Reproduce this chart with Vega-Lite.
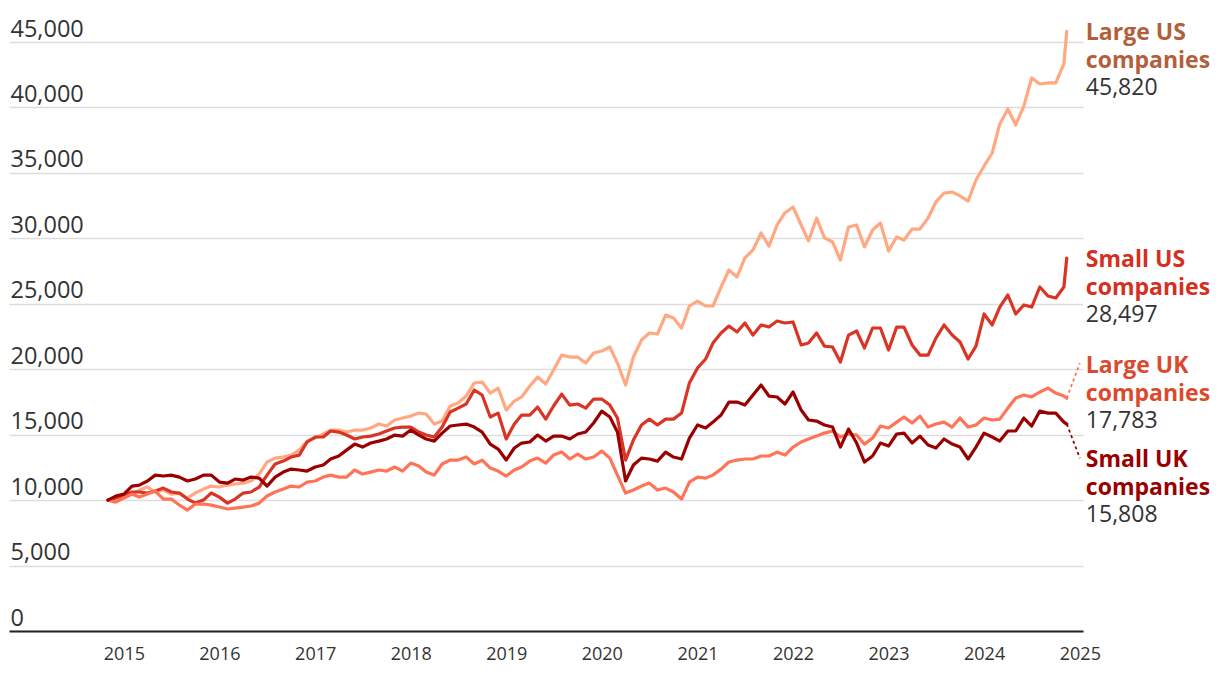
{
  "$schema": "https://vega.github.io/schema/vega-lite/v6.json",
  "width": 1074,
  "height": 589,
  "autosize": {"type": "none"},
  "padding": {"left": 9, "top": 42, "right": 137, "bottom": 51},
  "background": "white",
  "config": {"view": {"stroke": null}, "font": "Open Sans"},
  "datasets": {
    "pts": [
      {"d":"2014-11-01","s":"LUS","v":10000},{"d":"2014-12-01","s":"LUS","v":10160},
      {"d":"2015-01-01","s":"LUS","v":10310},{"d":"2015-02-01","s":"LUS","v":10460},{"d":"2015-03-01","s":"LUS","v":10770},{"d":"2015-04-01","s":"LUS","v":11000},{"d":"2015-05-01","s":"LUS","v":10620},{"d":"2015-06-01","s":"LUS","v":10770},{"d":"2015-07-01","s":"LUS","v":10460},{"d":"2015-08-01","s":"LUS","v":10540},{"d":"2015-09-01","s":"LUS","v":10160},{"d":"2015-10-01","s":"LUS","v":10540},{"d":"2015-11-01","s":"LUS","v":10840},{"d":"2015-12-01","s":"LUS","v":11070},
      {"d":"2016-01-01","s":"LUS","v":11000},{"d":"2016-02-01","s":"LUS","v":11150},{"d":"2016-03-01","s":"LUS","v":11230},{"d":"2016-04-01","s":"LUS","v":11300},{"d":"2016-05-01","s":"LUS","v":11460},{"d":"2016-06-01","s":"LUS","v":11990},{"d":"2016-07-01","s":"LUS","v":12910},{"d":"2016-08-01","s":"LUS","v":13210},{"d":"2016-09-01","s":"LUS","v":13290},{"d":"2016-10-01","s":"LUS","v":13440},{"d":"2016-11-01","s":"LUS","v":13820},{"d":"2016-12-01","s":"LUS","v":14510},
      {"d":"2017-01-01","s":"LUS","v":14740},{"d":"2017-02-01","s":"LUS","v":15050},{"d":"2017-03-01","s":"LUS","v":15350},{"d":"2017-04-01","s":"LUS","v":15350},{"d":"2017-05-01","s":"LUS","v":15200},{"d":"2017-06-01","s":"LUS","v":15350},{"d":"2017-07-01","s":"LUS","v":15350},{"d":"2017-08-01","s":"LUS","v":15510},{"d":"2017-09-01","s":"LUS","v":15810},{"d":"2017-10-01","s":"LUS","v":15660},{"d":"2017-11-01","s":"LUS","v":16120},{"d":"2017-12-01","s":"LUS","v":16270},
      {"d":"2018-01-01","s":"LUS","v":16420},{"d":"2018-02-01","s":"LUS","v":16650},{"d":"2018-03-01","s":"LUS","v":16580},{"d":"2018-04-01","s":"LUS","v":15810},{"d":"2018-05-01","s":"LUS","v":16040},{"d":"2018-06-01","s":"LUS","v":17190},{"d":"2018-07-01","s":"LUS","v":17420},{"d":"2018-08-01","s":"LUS","v":17950},{"d":"2018-09-01","s":"LUS","v":18950},{"d":"2018-10-01","s":"LUS","v":19020},{"d":"2018-11-01","s":"LUS","v":18180},{"d":"2018-12-01","s":"LUS","v":18560},
      {"d":"2019-01-01","s":"LUS","v":16880},{"d":"2019-02-01","s":"LUS","v":17570},{"d":"2019-03-01","s":"LUS","v":17880},{"d":"2019-04-01","s":"LUS","v":18720},{"d":"2019-05-01","s":"LUS","v":19400},{"d":"2019-06-01","s":"LUS","v":18870},{"d":"2019-07-01","s":"LUS","v":19940},{"d":"2019-08-01","s":"LUS","v":21080},{"d":"2019-09-01","s":"LUS","v":20930},{"d":"2019-10-01","s":"LUS","v":20930},{"d":"2019-11-01","s":"LUS","v":20470},{"d":"2019-12-01","s":"LUS","v":21240},
      {"d":"2020-01-01","s":"LUS","v":21390},{"d":"2020-02-01","s":"LUS","v":21700},{"d":"2020-03-01","s":"LUS","v":20470},{"d":"2020-04-01","s":"LUS","v":18790},{"d":"2020-05-01","s":"LUS","v":20930},{"d":"2020-06-01","s":"LUS","v":22230},{"d":"2020-07-01","s":"LUS","v":22770},{"d":"2020-08-01","s":"LUS","v":22690},{"d":"2020-09-01","s":"LUS","v":24140},{"d":"2020-10-01","s":"LUS","v":23910},{"d":"2020-11-01","s":"LUS","v":23150},{"d":"2020-12-01","s":"LUS","v":24830},
      {"d":"2021-01-01","s":"LUS","v":25210},{"d":"2021-02-01","s":"LUS","v":24830},{"d":"2021-03-01","s":"LUS","v":24830},{"d":"2021-04-01","s":"LUS","v":26280},{"d":"2021-05-01","s":"LUS","v":27580},{"d":"2021-06-01","s":"LUS","v":27050},{"d":"2021-07-01","s":"LUS","v":28500},{"d":"2021-08-01","s":"LUS","v":29110},{"d":"2021-09-01","s":"LUS","v":30410},{"d":"2021-10-01","s":"LUS","v":29410},{"d":"2021-11-01","s":"LUS","v":31020},{"d":"2021-12-01","s":"LUS","v":31940},
      {"d":"2022-01-01","s":"LUS","v":32400},{"d":"2022-02-01","s":"LUS","v":31020},{"d":"2022-03-01","s":"LUS","v":29800},{"d":"2022-04-01","s":"LUS","v":31550},{"d":"2022-05-01","s":"LUS","v":30030},{"d":"2022-06-01","s":"LUS","v":29720},{"d":"2022-07-01","s":"LUS","v":28340},{"d":"2022-08-01","s":"LUS","v":30870},{"d":"2022-09-01","s":"LUS","v":31020},{"d":"2022-10-01","s":"LUS","v":29340},{"d":"2022-11-01","s":"LUS","v":30640},{"d":"2022-12-01","s":"LUS","v":31170},
      {"d":"2023-01-01","s":"LUS","v":29030},{"d":"2023-02-01","s":"LUS","v":30100},{"d":"2023-03-01","s":"LUS","v":29870},{"d":"2023-04-01","s":"LUS","v":30710},{"d":"2023-05-01","s":"LUS","v":30710},{"d":"2023-06-01","s":"LUS","v":31550},{"d":"2023-07-01","s":"LUS","v":32780},{"d":"2023-08-01","s":"LUS","v":33460},{"d":"2023-09-01","s":"LUS","v":33540},{"d":"2023-10-01","s":"LUS","v":33240},{"d":"2023-11-01","s":"LUS","v":32850},{"d":"2023-12-01","s":"LUS","v":34460},
      {"d":"2024-01-01","s":"LUS","v":35530},{"d":"2024-02-01","s":"LUS","v":36520},{"d":"2024-03-01","s":"LUS","v":38740},{"d":"2024-04-01","s":"LUS","v":39880},{"d":"2024-05-01","s":"LUS","v":38660},{"d":"2024-06-01","s":"LUS","v":40110},{"d":"2024-07-01","s":"LUS","v":42250},{"d":"2024-08-01","s":"LUS","v":41790},{"d":"2024-09-01","s":"LUS","v":41870},{"d":"2024-10-01","s":"LUS","v":41870},{"d":"2024-11-01","s":"LUS","v":43320},{"d":"2024-11-12","s":"LUS","v":45820},

      {"d":"2014-11-01","s":"SUS","v":10000},{"d":"2014-12-01","s":"SUS","v":10160},
      {"d":"2015-01-01","s":"SUS","v":10390},{"d":"2015-02-01","s":"SUS","v":10620},{"d":"2015-03-01","s":"SUS","v":10620},{"d":"2015-04-01","s":"SUS","v":10540},{"d":"2015-05-01","s":"SUS","v":10690},{"d":"2015-06-01","s":"SUS","v":10920},{"d":"2015-07-01","s":"SUS","v":10620},{"d":"2015-08-01","s":"SUS","v":10540},{"d":"2015-09-01","s":"SUS","v":10080},{"d":"2015-10-01","s":"SUS","v":9770},{"d":"2015-11-01","s":"SUS","v":10000},{"d":"2015-12-01","s":"SUS","v":10540},
      {"d":"2016-01-01","s":"SUS","v":10230},{"d":"2016-02-01","s":"SUS","v":9770},{"d":"2016-03-01","s":"SUS","v":10080},{"d":"2016-04-01","s":"SUS","v":10540},{"d":"2016-05-01","s":"SUS","v":10620},{"d":"2016-06-01","s":"SUS","v":11000},{"d":"2016-07-01","s":"SUS","v":11910},{"d":"2016-08-01","s":"SUS","v":12760},{"d":"2016-09-01","s":"SUS","v":12980},{"d":"2016-10-01","s":"SUS","v":13290},{"d":"2016-11-01","s":"SUS","v":13440},{"d":"2016-12-01","s":"SUS","v":14440},
      {"d":"2017-01-01","s":"SUS","v":14820},{"d":"2017-02-01","s":"SUS","v":14820},{"d":"2017-03-01","s":"SUS","v":15280},{"d":"2017-04-01","s":"SUS","v":15200},{"d":"2017-05-01","s":"SUS","v":14970},{"d":"2017-06-01","s":"SUS","v":14670},{"d":"2017-07-01","s":"SUS","v":14820},{"d":"2017-08-01","s":"SUS","v":14890},{"d":"2017-09-01","s":"SUS","v":15050},{"d":"2017-10-01","s":"SUS","v":15280},{"d":"2017-11-01","s":"SUS","v":15510},{"d":"2017-12-01","s":"SUS","v":15580},
      {"d":"2018-01-01","s":"SUS","v":15580},{"d":"2018-02-01","s":"SUS","v":15200},{"d":"2018-03-01","s":"SUS","v":14970},{"d":"2018-04-01","s":"SUS","v":14820},{"d":"2018-05-01","s":"SUS","v":15580},{"d":"2018-06-01","s":"SUS","v":16730},{"d":"2018-07-01","s":"SUS","v":17030},{"d":"2018-08-01","s":"SUS","v":17340},{"d":"2018-09-01","s":"SUS","v":18410},{"d":"2018-10-01","s":"SUS","v":18030},{"d":"2018-11-01","s":"SUS","v":16350},{"d":"2018-12-01","s":"SUS","v":16650},
      {"d":"2019-01-01","s":"SUS","v":14670},{"d":"2019-02-01","s":"SUS","v":15810},{"d":"2019-03-01","s":"SUS","v":16500},{"d":"2019-04-01","s":"SUS","v":16500},{"d":"2019-05-01","s":"SUS","v":17110},{"d":"2019-06-01","s":"SUS","v":16190},{"d":"2019-07-01","s":"SUS","v":17190},{"d":"2019-08-01","s":"SUS","v":18100},{"d":"2019-09-01","s":"SUS","v":17260},{"d":"2019-10-01","s":"SUS","v":17340},{"d":"2019-11-01","s":"SUS","v":17030},{"d":"2019-12-01","s":"SUS","v":17720},
      {"d":"2020-01-01","s":"SUS","v":17720},{"d":"2020-02-01","s":"SUS","v":17260},{"d":"2020-03-01","s":"SUS","v":16270},{"d":"2020-04-01","s":"SUS","v":13060},{"d":"2020-05-01","s":"SUS","v":14590},{"d":"2020-06-01","s":"SUS","v":15740},{"d":"2020-07-01","s":"SUS","v":16190},{"d":"2020-08-01","s":"SUS","v":15740},{"d":"2020-09-01","s":"SUS","v":16190},{"d":"2020-10-01","s":"SUS","v":16190},{"d":"2020-11-01","s":"SUS","v":16650},{"d":"2020-12-01","s":"SUS","v":18950},
      {"d":"2021-01-01","s":"SUS","v":20090},{"d":"2021-02-01","s":"SUS","v":20780},{"d":"2021-03-01","s":"SUS","v":22000},{"d":"2021-04-01","s":"SUS","v":22770},{"d":"2021-05-01","s":"SUS","v":23300},{"d":"2021-06-01","s":"SUS","v":22840},{"d":"2021-07-01","s":"SUS","v":23530},{"d":"2021-08-01","s":"SUS","v":22610},{"d":"2021-09-01","s":"SUS","v":23380},{"d":"2021-10-01","s":"SUS","v":23220},{"d":"2021-11-01","s":"SUS","v":23680},{"d":"2021-12-01","s":"SUS","v":23530},
      {"d":"2022-01-01","s":"SUS","v":23610},{"d":"2022-02-01","s":"SUS","v":21850},{"d":"2022-03-01","s":"SUS","v":22000},{"d":"2022-04-01","s":"SUS","v":22770},{"d":"2022-05-01","s":"SUS","v":21770},{"d":"2022-06-01","s":"SUS","v":21700},{"d":"2022-07-01","s":"SUS","v":20550},{"d":"2022-08-01","s":"SUS","v":22610},{"d":"2022-09-01","s":"SUS","v":22920},{"d":"2022-10-01","s":"SUS","v":21620},{"d":"2022-11-01","s":"SUS","v":23150},{"d":"2022-12-01","s":"SUS","v":23150},
      {"d":"2023-01-01","s":"SUS","v":21470},{"d":"2023-02-01","s":"SUS","v":23220},{"d":"2023-03-01","s":"SUS","v":23220},{"d":"2023-04-01","s":"SUS","v":21850},{"d":"2023-05-01","s":"SUS","v":21080},{"d":"2023-06-01","s":"SUS","v":21080},{"d":"2023-07-01","s":"SUS","v":22380},{"d":"2023-08-01","s":"SUS","v":23380},{"d":"2023-09-01","s":"SUS","v":22610},{"d":"2023-10-01","s":"SUS","v":22080},{"d":"2023-11-01","s":"SUS","v":20780},{"d":"2023-12-01","s":"SUS","v":21770},
      {"d":"2024-01-01","s":"SUS","v":24220},{"d":"2024-02-01","s":"SUS","v":23380},{"d":"2024-03-01","s":"SUS","v":24750},{"d":"2024-04-01","s":"SUS","v":25670},{"d":"2024-05-01","s":"SUS","v":24220},{"d":"2024-06-01","s":"SUS","v":24910},{"d":"2024-07-01","s":"SUS","v":24750},{"d":"2024-08-01","s":"SUS","v":26280},{"d":"2024-09-01","s":"SUS","v":25590},{"d":"2024-10-01","s":"SUS","v":25440},{"d":"2024-11-01","s":"SUS","v":26280},{"d":"2024-11-12","s":"SUS","v":28497},

      {"d":"2014-11-01","s":"LUK","v":10000},{"d":"2014-12-01","s":"LUK","v":9850},
      {"d":"2015-01-01","s":"LUK","v":10160},{"d":"2015-02-01","s":"LUK","v":10460},{"d":"2015-03-01","s":"LUK","v":10230},{"d":"2015-04-01","s":"LUK","v":10460},{"d":"2015-05-01","s":"LUK","v":10690},{"d":"2015-06-01","s":"LUK","v":10080},{"d":"2015-07-01","s":"LUK","v":10080},{"d":"2015-08-01","s":"LUK","v":9620},{"d":"2015-09-01","s":"LUK","v":9240},{"d":"2015-10-01","s":"LUK","v":9700},{"d":"2015-11-01","s":"LUK","v":9700},{"d":"2015-12-01","s":"LUK","v":9620},
      {"d":"2016-01-01","s":"LUK","v":9470},{"d":"2016-02-01","s":"LUK","v":9320},{"d":"2016-03-01","s":"LUK","v":9390},{"d":"2016-04-01","s":"LUK","v":9470},{"d":"2016-05-01","s":"LUK","v":9550},{"d":"2016-06-01","s":"LUK","v":9770},{"d":"2016-07-01","s":"LUK","v":10310},{"d":"2016-08-01","s":"LUK","v":10620},{"d":"2016-09-01","s":"LUK","v":10840},{"d":"2016-10-01","s":"LUK","v":11070},{"d":"2016-11-01","s":"LUK","v":11000},{"d":"2016-12-01","s":"LUK","v":11380},
      {"d":"2017-01-01","s":"LUK","v":11460},{"d":"2017-02-01","s":"LUK","v":11760},{"d":"2017-03-01","s":"LUK","v":11910},{"d":"2017-04-01","s":"LUK","v":11760},{"d":"2017-05-01","s":"LUK","v":11760},{"d":"2017-06-01","s":"LUK","v":12300},{"d":"2017-07-01","s":"LUK","v":11990},{"d":"2017-08-01","s":"LUK","v":12140},{"d":"2017-09-01","s":"LUK","v":12300},{"d":"2017-10-01","s":"LUK","v":12220},{"d":"2017-11-01","s":"LUK","v":12530},{"d":"2017-12-01","s":"LUK","v":12220},
      {"d":"2018-01-01","s":"LUK","v":12830},{"d":"2018-02-01","s":"LUK","v":12600},{"d":"2018-03-01","s":"LUK","v":12140},{"d":"2018-04-01","s":"LUK","v":11910},{"d":"2018-05-01","s":"LUK","v":12760},{"d":"2018-06-01","s":"LUK","v":13060},{"d":"2018-07-01","s":"LUK","v":13060},{"d":"2018-08-01","s":"LUK","v":13290},{"d":"2018-09-01","s":"LUK","v":12760},{"d":"2018-10-01","s":"LUK","v":13060},{"d":"2018-11-01","s":"LUK","v":12450},{"d":"2018-12-01","s":"LUK","v":12220},
      {"d":"2019-01-01","s":"LUK","v":11840},{"d":"2019-02-01","s":"LUK","v":12300},{"d":"2019-03-01","s":"LUK","v":12530},{"d":"2019-04-01","s":"LUK","v":12980},{"d":"2019-05-01","s":"LUK","v":13210},{"d":"2019-06-01","s":"LUK","v":12830},{"d":"2019-07-01","s":"LUK","v":13440},{"d":"2019-08-01","s":"LUK","v":13670},{"d":"2019-09-01","s":"LUK","v":13140},{"d":"2019-10-01","s":"LUK","v":13520},{"d":"2019-11-01","s":"LUK","v":13140},{"d":"2019-12-01","s":"LUK","v":13290},
      {"d":"2020-01-01","s":"LUK","v":13750},{"d":"2020-02-01","s":"LUK","v":13210},{"d":"2020-03-01","s":"LUK","v":11910},{"d":"2020-04-01","s":"LUK","v":10540},{"d":"2020-05-01","s":"LUK","v":10770},{"d":"2020-06-01","s":"LUK","v":11070},{"d":"2020-07-01","s":"LUK","v":11300},{"d":"2020-08-01","s":"LUK","v":10770},{"d":"2020-09-01","s":"LUK","v":10920},{"d":"2020-10-01","s":"LUK","v":10620},{"d":"2020-11-01","s":"LUK","v":10080},{"d":"2020-12-01","s":"LUK","v":11380},
      {"d":"2021-01-01","s":"LUK","v":11760},{"d":"2021-02-01","s":"LUK","v":11680},{"d":"2021-03-01","s":"LUK","v":11910},{"d":"2021-04-01","s":"LUK","v":12370},{"d":"2021-05-01","s":"LUK","v":12910},{"d":"2021-06-01","s":"LUK","v":13060},{"d":"2021-07-01","s":"LUK","v":13140},{"d":"2021-08-01","s":"LUK","v":13140},{"d":"2021-09-01","s":"LUK","v":13370},{"d":"2021-10-01","s":"LUK","v":13370},{"d":"2021-11-01","s":"LUK","v":13670},{"d":"2021-12-01","s":"LUK","v":13440},
      {"d":"2022-01-01","s":"LUK","v":14050},{"d":"2022-02-01","s":"LUK","v":14440},{"d":"2022-03-01","s":"LUK","v":14670},{"d":"2022-04-01","s":"LUK","v":14890},{"d":"2022-05-01","s":"LUK","v":15120},{"d":"2022-06-01","s":"LUK","v":15280},{"d":"2022-07-01","s":"LUK","v":14820},{"d":"2022-08-01","s":"LUK","v":15050},{"d":"2022-09-01","s":"LUK","v":14970},{"d":"2022-10-01","s":"LUK","v":14280},{"d":"2022-11-01","s":"LUK","v":14740},{"d":"2022-12-01","s":"LUK","v":15660},
      {"d":"2023-01-01","s":"LUK","v":15510},{"d":"2023-02-01","s":"LUK","v":15960},{"d":"2023-03-01","s":"LUK","v":16350},{"d":"2023-04-01","s":"LUK","v":15890},{"d":"2023-05-01","s":"LUK","v":16420},{"d":"2023-06-01","s":"LUK","v":15580},{"d":"2023-07-01","s":"LUK","v":15810},{"d":"2023-08-01","s":"LUK","v":15960},{"d":"2023-09-01","s":"LUK","v":15580},{"d":"2023-10-01","s":"LUK","v":16270},{"d":"2023-11-01","s":"LUK","v":15580},{"d":"2023-12-01","s":"LUK","v":15740},
      {"d":"2024-01-01","s":"LUK","v":16270},{"d":"2024-02-01","s":"LUK","v":16120},{"d":"2024-03-01","s":"LUK","v":16190},{"d":"2024-04-01","s":"LUK","v":17030},{"d":"2024-05-01","s":"LUK","v":17800},{"d":"2024-06-01","s":"LUK","v":18030},{"d":"2024-07-01","s":"LUK","v":17880},{"d":"2024-08-01","s":"LUK","v":18260},{"d":"2024-09-01","s":"LUK","v":18560},{"d":"2024-10-01","s":"LUK","v":18180},{"d":"2024-11-01","s":"LUK","v":17950},{"d":"2024-11-12","s":"LUK","v":17783},

      {"d":"2014-11-01","s":"SUK","v":10000},{"d":"2014-12-01","s":"SUK","v":10310},
      {"d":"2015-01-01","s":"SUK","v":10460},{"d":"2015-02-01","s":"SUK","v":11070},{"d":"2015-03-01","s":"SUK","v":11150},{"d":"2015-04-01","s":"SUK","v":11460},{"d":"2015-05-01","s":"SUK","v":11910},{"d":"2015-06-01","s":"SUK","v":11840},{"d":"2015-07-01","s":"SUK","v":11910},{"d":"2015-08-01","s":"SUK","v":11760},{"d":"2015-09-01","s":"SUK","v":11460},{"d":"2015-10-01","s":"SUK","v":11610},{"d":"2015-11-01","s":"SUK","v":11910},{"d":"2015-12-01","s":"SUK","v":11910},
      {"d":"2016-01-01","s":"SUK","v":11380},{"d":"2016-02-01","s":"SUK","v":11300},{"d":"2016-03-01","s":"SUK","v":11610},{"d":"2016-04-01","s":"SUK","v":11530},{"d":"2016-05-01","s":"SUK","v":11760},{"d":"2016-06-01","s":"SUK","v":11680},{"d":"2016-07-01","s":"SUK","v":11070},{"d":"2016-08-01","s":"SUK","v":11760},{"d":"2016-09-01","s":"SUK","v":12140},{"d":"2016-10-01","s":"SUK","v":12370},{"d":"2016-11-01","s":"SUK","v":12300},{"d":"2016-12-01","s":"SUK","v":12220},
      {"d":"2017-01-01","s":"SUK","v":12530},{"d":"2017-02-01","s":"SUK","v":12680},{"d":"2017-03-01","s":"SUK","v":13140},{"d":"2017-04-01","s":"SUK","v":13370},{"d":"2017-05-01","s":"SUK","v":13820},{"d":"2017-06-01","s":"SUK","v":14280},{"d":"2017-07-01","s":"SUK","v":14050},{"d":"2017-08-01","s":"SUK","v":14360},{"d":"2017-09-01","s":"SUK","v":14510},{"d":"2017-10-01","s":"SUK","v":14670},{"d":"2017-11-01","s":"SUK","v":14970},{"d":"2017-12-01","s":"SUK","v":14890},
      {"d":"2018-01-01","s":"SUK","v":15350},{"d":"2018-02-01","s":"SUK","v":14970},{"d":"2018-03-01","s":"SUK","v":14670},{"d":"2018-04-01","s":"SUK","v":14510},{"d":"2018-05-01","s":"SUK","v":15120},{"d":"2018-06-01","s":"SUK","v":15660},{"d":"2018-07-01","s":"SUK","v":15740},{"d":"2018-08-01","s":"SUK","v":15810},{"d":"2018-09-01","s":"SUK","v":15580},{"d":"2018-10-01","s":"SUK","v":15200},{"d":"2018-11-01","s":"SUK","v":14280},{"d":"2018-12-01","s":"SUK","v":13900},
      {"d":"2019-01-01","s":"SUK","v":13060},{"d":"2019-02-01","s":"SUK","v":13980},{"d":"2019-03-01","s":"SUK","v":14360},{"d":"2019-04-01","s":"SUK","v":14440},{"d":"2019-05-01","s":"SUK","v":14970},{"d":"2019-06-01","s":"SUK","v":14510},{"d":"2019-07-01","s":"SUK","v":14890},{"d":"2019-08-01","s":"SUK","v":14890},{"d":"2019-09-01","s":"SUK","v":14670},{"d":"2019-10-01","s":"SUK","v":15050},{"d":"2019-11-01","s":"SUK","v":15200},{"d":"2019-12-01","s":"SUK","v":15890},
      {"d":"2020-01-01","s":"SUK","v":16800},{"d":"2020-02-01","s":"SUK","v":16350},{"d":"2020-03-01","s":"SUK","v":15200},{"d":"2020-04-01","s":"SUK","v":11460},{"d":"2020-05-01","s":"SUK","v":12680},{"d":"2020-06-01","s":"SUK","v":13210},{"d":"2020-07-01","s":"SUK","v":13140},{"d":"2020-08-01","s":"SUK","v":12980},{"d":"2020-09-01","s":"SUK","v":13670},{"d":"2020-10-01","s":"SUK","v":13290},{"d":"2020-11-01","s":"SUK","v":13140},{"d":"2020-12-01","s":"SUK","v":14740},
      {"d":"2021-01-01","s":"SUK","v":15740},{"d":"2021-02-01","s":"SUK","v":15510},{"d":"2021-03-01","s":"SUK","v":15960},{"d":"2021-04-01","s":"SUK","v":16500},{"d":"2021-05-01","s":"SUK","v":17490},{"d":"2021-06-01","s":"SUK","v":17490},{"d":"2021-07-01","s":"SUK","v":17260},{"d":"2021-08-01","s":"SUK","v":18030},{"d":"2021-09-01","s":"SUK","v":18790},{"d":"2021-10-01","s":"SUK","v":17950},{"d":"2021-11-01","s":"SUK","v":17880},{"d":"2021-12-01","s":"SUK","v":17340},
      {"d":"2022-01-01","s":"SUK","v":18260},{"d":"2022-02-01","s":"SUK","v":16880},{"d":"2022-03-01","s":"SUK","v":16120},{"d":"2022-04-01","s":"SUK","v":16040},{"d":"2022-05-01","s":"SUK","v":15740},{"d":"2022-06-01","s":"SUK","v":15580},{"d":"2022-07-01","s":"SUK","v":14050},{"d":"2022-08-01","s":"SUK","v":15430},{"d":"2022-09-01","s":"SUK","v":14360},{"d":"2022-10-01","s":"SUK","v":12910},{"d":"2022-11-01","s":"SUK","v":13370},{"d":"2022-12-01","s":"SUK","v":14360},
      {"d":"2023-01-01","s":"SUK","v":14130},{"d":"2023-02-01","s":"SUK","v":15050},{"d":"2023-03-01","s":"SUK","v":15120},{"d":"2023-04-01","s":"SUK","v":14360},{"d":"2023-05-01","s":"SUK","v":14890},{"d":"2023-06-01","s":"SUK","v":14210},{"d":"2023-07-01","s":"SUK","v":13980},{"d":"2023-08-01","s":"SUK","v":14670},{"d":"2023-09-01","s":"SUK","v":14280},{"d":"2023-10-01","s":"SUK","v":14050},{"d":"2023-11-01","s":"SUK","v":13140},{"d":"2023-12-01","s":"SUK","v":14050},
      {"d":"2024-01-01","s":"SUK","v":15120},{"d":"2024-02-01","s":"SUK","v":14820},{"d":"2024-03-01","s":"SUK","v":14510},{"d":"2024-04-01","s":"SUK","v":15280},{"d":"2024-05-01","s":"SUK","v":15280},{"d":"2024-06-01","s":"SUK","v":16270},{"d":"2024-07-01","s":"SUK","v":15660},{"d":"2024-08-01","s":"SUK","v":16800},{"d":"2024-09-01","s":"SUK","v":16650},{"d":"2024-10-01","s":"SUK","v":16650},{"d":"2024-11-01","s":"SUK","v":15960},{"d":"2024-11-12","s":"SUK","v":15808}
    ],
    "labels": [
      {"s":"LUS","d":"2025-01-01","v":45160,"name":"Large US\ncompanies","num":"45,820"},
      {"s":"SUS","d":"2025-01-01","v":27810,"name":"Small US\ncompanies","num":"28,497"},
      {"s":"LUK","d":"2025-01-01","v":19710,"name":"Large UK\ncompanies","num":"17,783"},
      {"s":"SUK","d":"2025-01-01","v":12530,"name":"Small UK\ncompanies","num":"15,808"}
    ],
    "leaders": [
      {"s":"LUK","d":"2024-11-12","v":17783},{"s":"LUK","d":"2025-01-01","v":20470},
      {"s":"SUK","d":"2024-11-12","v":15808},{"s":"SUK","d":"2025-01-01","v":13210}
    ]
  },
  "encoding": {
    "x": {
      "field": "d", "type": "temporal",
      "scale": {"type": "utc", "domain": [{"year": 2013, "month": 10, "date": 19, "utc": true}, {"year": 2025, "month": 1, "date": 13, "utc": true}]},
      "axis": {
        "title": null, "format": "%Y",
        "values": [
          {"year": 2015, "month": 1, "date": 1, "utc": true}, {"year": 2016, "month": 1, "date": 1, "utc": true},
          {"year": 2017, "month": 1, "date": 1, "utc": true}, {"year": 2018, "month": 1, "date": 1, "utc": true},
          {"year": 2019, "month": 1, "date": 1, "utc": true}, {"year": 2020, "month": 1, "date": 1, "utc": true},
          {"year": 2021, "month": 1, "date": 1, "utc": true}, {"year": 2022, "month": 1, "date": 1, "utc": true},
          {"year": 2023, "month": 1, "date": 1, "utc": true}, {"year": 2024, "month": 1, "date": 1, "utc": true},
          {"year": 2025, "month": 1, "date": 1, "utc": true}
        ],
        "grid": false, "ticks": false, "tickSize": 0,
        "domain": true, "domainColor": "#222222", "domainWidth": 2,
        "labelFont": "Open Sans", "labelFontSize": 18, "labelColor": "#333333",
        "labelPadding": 14, "labelFlush": false, "labelOverlap": false
      }
    },
    "y": {
      "field": "v", "type": "quantitative",
      "scale": {"domain": [0, 45000], "nice": false, "zero": true},
      "axis": {
        "title": null, "format": ",.0f",
        "values": [0, 5000, 10000, 15000, 20000, 25000, 30000, 35000, 40000, 45000],
        "grid": true, "gridColor": "#dddddd", "gridWidth": 1.5,
        "ticks": false, "tickSize": 0, "domain": false,
        "labelAlign": "left", "labelBaseline": "alphabetic", "labelPadding": -1, "labelOffset": -6,
        "labelFont": "Open Sans", "labelFontSize": 23.5, "labelColor": "#333333"
      }
    }
  },
  "layer": [
    {
      "data": {"name": "pts"},
      "mark": {"type": "line", "strokeWidth": 3.2, "strokeJoin": "round", "strokeCap": "round"},
      "encoding": {
        "color": {"field": "s", "type": "nominal", "legend": null,
          "scale": {"domain": ["LUS", "SUS", "LUK", "SUK"], "range": ["#ffa882", "#d93424", "#ff7356", "#9b0000"]}}
      }
    },
    {
      "data": {"name": "leaders"},
      "mark": {"type": "line", "strokeWidth": 1.8, "strokeDash": [3, 3]},
      "encoding": {
        "color": {"field": "s", "type": "nominal", "legend": null,
          "scale": {"domain": ["LUK", "SUK"], "range": ["#ff7356", "#9b0000"]}}
      }
    },
    {
      "data": {"name": "labels"},
      "mark": {"type": "text", "align": "left", "baseline": "alphabetic", "dx": 6, "lineBreak": "\n", "lineHeight": 28, "font": "Open Sans", "fontSize": 23, "fontWeight": "bold"},
      "encoding": {
        "text": {"field": "name"},
        "color": {"field": "s", "type": "nominal", "legend": null,
          "scale": {"domain": ["LUS", "SUS", "LUK", "SUK"], "range": ["#b3603a", "#d52f1f", "#dc4a2e", "#990000"]}}
      }
    },
    {
      "data": {"name": "labels"},
      "mark": {"type": "text", "align": "left", "baseline": "alphabetic", "dx": 6, "dy": 55, "font": "Open Sans", "fontSize": 23, "color": "#333333"},
      "encoding": {
        "text": {"field": "num"}
      }
    }
  ],
  "resolve": {"scale": {"color": "independent"}}
}
